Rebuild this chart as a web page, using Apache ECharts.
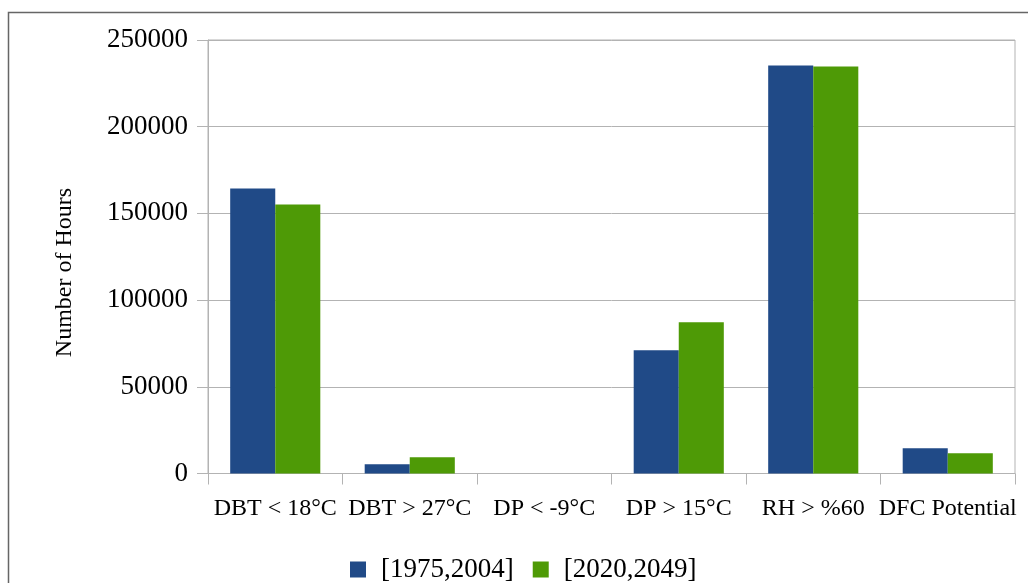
<!DOCTYPE html>
<html>
<head>
<meta charset="utf-8">
<script src="https://cdn.jsdelivr.net/npm/echarts@6/dist/echarts.min.js"></script>
<style>html,body{margin:0;padding:0;background:#fff;}#c{width:1028px;height:583px;}</style>
</head>
<body>
<div id="c"></div>
<script>
const categories = ['DBT < 18°C', 'DBT > 27°C', 'DP < -9°C', 'DP > 15°C', 'RH > %60', 'DFC Potential'];
const seriesNames = ['[1975,2004]', '[2020,2049]'];
const values1975 = [164400, 5400, 0, 71100, 235300, 14600];
const values2020 = [155200, 9400, 0, 87200, 234700, 11700];
const yTicks = { min: 0, max: 250000, interval: 50000 };
const yAxisTitle = 'Number of Hours';

const FONT = 'Liberation Serif';
const chart = echarts.init(document.getElementById('c'), null, { renderer: 'canvas' });
chart.setOption({
  animation: false,
  backgroundColor: '#ffffff',
  color: ['#204a87', '#4e9a06'],
  grid: { left: 208, right: 13, top: 40, bottom: 109.5, show: true, borderColor: '#b3b3b3', borderWidth: 1, containLabel: false },
  graphic: [
    { type: 'rect', shape: { x: 8.5, y: 12.5, width: 1200, height: 800 }, style: { fill: 'none', stroke: '#666666', lineWidth: 1.5 }, silent: true },
    { type: 'text', x: 65, y: 272.5, rotation: Math.PI / 2, style: { text: yAxisTitle, font: '24px "' + FONT + '"', fill: '#000', align: 'center', verticalAlign: 'middle' } }
  ],
  legend: {
    left: 350, top: 556, padding: 0, itemWidth: 16, itemHeight: 16, itemGap: 19,
    icon: 'rect',
    textStyle: { fontFamily: FONT, fontSize: 27, color: '#000', padding: [0, 0, 0, 10] },
    data: seriesNames
  },
  xAxis: {
    type: 'category', data: categories,
    axisLine: { lineStyle: { color: '#b3b3b3', width: 1 } },
    axisTick: { show: true, length: 11, lineStyle: { color: '#b3b3b3' } },
    axisLabel: { fontFamily: FONT, fontSize: 24, color: '#000', margin: 23, interval: 0 },
    splitLine: { show: false }
  },
  yAxis: {
    type: 'value', min: yTicks.min, max: yTicks.max, interval: yTicks.interval,
    axisLine: { show: true, lineStyle: { color: '#b3b3b3', width: 1 } },
    axisTick: { show: true, length: 11, lineStyle: { color: '#b3b3b3' } },
    axisLabel: { fontFamily: FONT, fontSize: 27, color: '#000', margin: 20, formatter: function (v) { return String(v); } },
    splitLine: { show: true, lineStyle: { color: '#b3b3b3', width: 1 } }
  },
  series: [
    { name: seriesNames[0], type: 'bar', data: values1975, barGap: '0%', barCategoryGap: '33%' },
    { name: seriesNames[1], type: 'bar', data: values2020, barGap: '0%', barCategoryGap: '33%' }
  ]
});
</script>
</body>
</html>
